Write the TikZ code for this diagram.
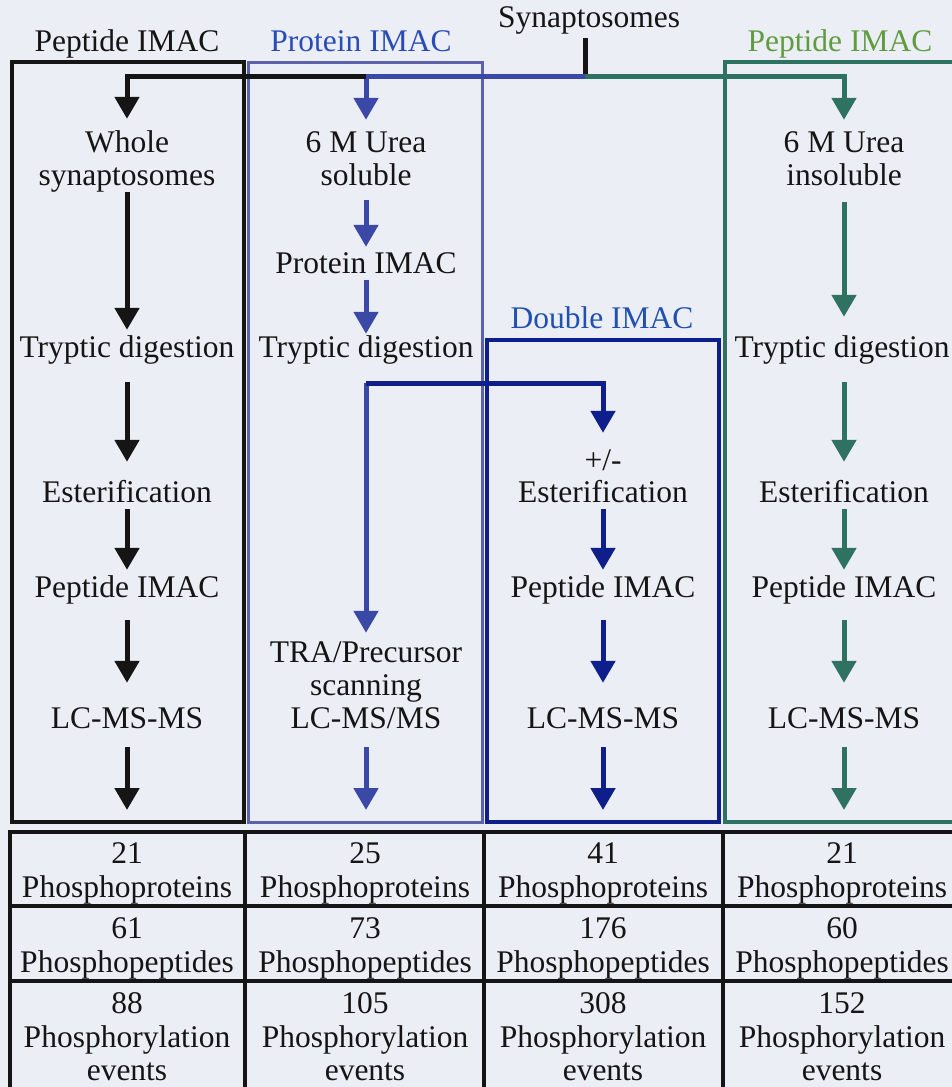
\documentclass[tikz,border=0pt]{standalone}
\usepackage{fontspec}
\setmainfont{Liberation Serif}
\usetikzlibrary{arrows.meta}
\definecolor{bg}{HTML}{ECEEF5}
\definecolor{ink}{HTML}{151515}
\definecolor{pblue}{HTML}{3A48A6}
\definecolor{pbox}{HTML}{5C62AC}
\definecolor{ptext}{HTML}{2A4CB8}
\definecolor{navy}{HTML}{0E1E8A}
\definecolor{dtext}{HTML}{2050B0}
\definecolor{grn}{HTML}{2F7262}
\definecolor{gtext}{HTML}{5F9C40}
\begin{document}
\begin{tikzpicture}[x=1pt,y=-1pt,
  lbl/.style={font=\fontsize{31.5}{34}\selectfont, inner sep=0pt, anchor=base,
              text height=21pt, text depth=7pt, text=ink},
  flow/.style={line width=5pt, -{Triangle[width=24pt,length=22pt]}, line join=miter},
  stub/.style={line width=5pt},
  boxline/.style={line width=4pt, line join=miter},
  tab/.style={line width=3.5pt, draw=ink}
]
\fill[bg] (0,0) rectangle (952,1087);
\useasboundingbox (0,0) rectangle (952,1087);
\clip (0,0) rectangle (952,1087);

% boxes
\draw[boxline, draw=ink] (12,62) rectangle (244,822);
\draw[line width=3pt, draw=pbox] (248,62) rectangle (482,822);
\draw[boxline, draw=navy] (487,340) rectangle (719,822);
\draw[boxline, draw=grn] (725,62) rectangle (965,822);

% top labels
\node[lbl] (syn) at (589,27) {Synaptosomes};
\node[lbl] (bk-t) at (127,51) {Peptide IMAC};
\node[lbl, text=ptext] (pr-t) at (361,51) {Protein IMAC};
\node[lbl, text=gtext] (gr-t) at (840,51) {Peptide IMAC};
\node[lbl, text=dtext] (db-t) at (602,328) {Double IMAC};

\coordinate (hub) at (585,76);
\coordinate (j-blue) at (366,76);

% black column
\node[lbl] (bk-1a) at (127,152) {Whole};
\node[lbl] (bk-1b) at (127,185) {synaptosomes};
\node[lbl] (bk-2) at (127,357) {Tryptic digestion};
\node[lbl] (bk-3) at (127,502) {Esterification};
\node[lbl] (bk-4) at (127,597) {Peptide IMAC};
\node[lbl] (bk-5) at (127,728) {LC-MS-MS};
\coordinate (bk-end) at (127,810);

% protein IMAC column
\node[lbl] (pr-1a) at (366,152) {6 M Urea};
\node[lbl] (pr-1b) at (366,185) {soluble};
\node[lbl] (pr-2) at (366,273) {Protein IMAC};
\node[lbl] (pr-3) at (366,357) {Tryptic digestion};
\node[lbl] (pr-4a) at (366,662) {TRA/Precursor};
\node[lbl] (pr-4b) at (366,695) {scanning};
\node[lbl] (pr-4c) at (366,728) {LC-MS/MS};
\coordinate (pr-split) at (366,383);
\coordinate (pr-end) at (366,810);

% double IMAC column
\node[lbl] (db-1a) at (603,470) {+/-};
\node[lbl] (db-1b) at (603,502) {Esterification};
\node[lbl] (db-2) at (603,597) {Peptide IMAC};
\node[lbl] (db-3) at (603,728) {LC-MS-MS};
\coordinate (db-end) at (603,810);

% green column
\node[lbl] (gr-1a) at (844,152) {6 M Urea};
\node[lbl] (gr-1b) at (844,185) {insoluble};
\node[lbl] (gr-2) at (842,357) {Tryptic digestion};
\node[lbl] (gr-3) at (844,502) {Esterification};
\node[lbl] (gr-4) at (844,597) {Peptide IMAC};
\node[lbl] (gr-5) at (844,728) {LC-MS-MS};
\coordinate (gr-end) at (845,810);

% synaptosomes stub and splits
\draw[stub, ink, shorten <=4pt] (syn.south -| hub) -- (hub);
\draw[flow, grn, shorten >=11pt] (hub) -| (gr-1a.north);
\draw[flow, pblue, shorten >=11pt] (hub) -| (pr-1a.north);
\draw[flow, ink, shorten >=12pt] (j-blue) -| (bk-1a.north);

% black arrows
\draw[flow, ink, shorten >=6pt] (bk-1b.south) -- (bk-2.north);
\draw[flow, ink, shorten <=18pt, shorten >=19pt] (bk-2.south) -- (bk-3.north);
\draw[flow, ink, shorten >=6pt] (bk-3.south) -- (bk-4.north);
\draw[flow, ink, shorten <=16pt, shorten >=24pt] (bk-4.south) -- (bk-5.north);
\draw[flow, ink, shorten <=12pt] (bk-5.south) -- (bk-end);

% protein IMAC arrows
\draw[flow, pblue, shorten <=8pt, shorten >=5pt] (pr-1b.south) -- (pr-2.north);
\draw[flow, pblue, shorten >=2pt] (pr-2.south) -- (pr-3.north);
\draw[flow, pblue, shorten >=8pt] (pr-split) -- (pr-4a.north);
\draw[flow, navy, shorten >=16pt] (pr-split) -| (db-1a.north);
\draw[flow, pblue, shorten <=12pt] (pr-4c.south) -- (pr-end);

% double IMAC arrows
\draw[flow, navy, shorten >=6pt] (db-1b.south) -- (db-2.north);
\draw[flow, navy, shorten <=16pt, shorten >=24pt] (db-2.south) -- (db-3.north);
\draw[flow, navy, shorten <=12pt] (db-3.south) -- (db-end);

% green arrows
\draw[flow, grn, shorten <=10pt, shorten >=19pt] (gr-1b.south) -- (gr-2.north -| gr-1b.south);
\draw[flow, grn, shorten <=18pt, shorten >=19pt] (gr-2.south -| gr-3.north) -- (gr-3.north);
\draw[flow, grn, shorten >=6pt] (gr-3.south) -- (gr-4.north);
\draw[flow, grn, shorten <=16pt, shorten >=24pt] (gr-4.south) -- (gr-5.north);
\draw[flow, grn, shorten <=12pt] (gr-5.south) -- (gr-end -| gr-5.south);

% results table
\draw[tab] (10,832) -- (965,832);
\draw[tab] (10,906) -- (965,906);
\draw[tab] (10,981) -- (965,981);
\foreach \xx in {10,245,484,723} { \draw[tab] (\xx,830) -- (\xx,1095); }

\node[lbl] (t11a) at (127,863) {21};
\node[lbl] (t11b) at (127,897) {Phosphoproteins};
\node[lbl] (t12a) at (365,863) {25};
\node[lbl] (t12b) at (365,897) {Phosphoproteins};
\node[lbl] (t13a) at (603,863) {41};
\node[lbl] (t13b) at (603,897) {Phosphoproteins};
\node[lbl] (t14a) at (842,863) {21};
\node[lbl] (t14b) at (842,897) {Phosphoproteins};

\node[lbl] (t21a) at (127,938) {61};
\node[lbl] (t21b) at (127,972) {Phosphopeptides};
\node[lbl] (t22a) at (365,938) {73};
\node[lbl] (t22b) at (365,972) {Phosphopeptides};
\node[lbl] (t23a) at (603,938) {176};
\node[lbl] (t23b) at (603,972) {Phosphopeptides};
\node[lbl] (t24a) at (842,938) {60};
\node[lbl] (t24b) at (842,972) {Phosphopeptides};

\node[lbl] (t31a) at (127,1013) {88};
\node[lbl] (t31b) at (127,1047) {Phosphorylation};
\node[lbl] (t31c) at (127,1080) {events};
\node[lbl] (t32a) at (365,1013) {105};
\node[lbl] (t32b) at (365,1047) {Phosphorylation};
\node[lbl] (t32c) at (365,1080) {events};
\node[lbl] (t33a) at (603,1013) {308};
\node[lbl] (t33b) at (603,1047) {Phosphorylation};
\node[lbl] (t33c) at (603,1080) {events};
\node[lbl] (t34a) at (842,1013) {152};
\node[lbl] (t34b) at (842,1047) {Phosphorylation};
\node[lbl] (t34c) at (842,1080) {events};
\end{tikzpicture}
\end{document}
